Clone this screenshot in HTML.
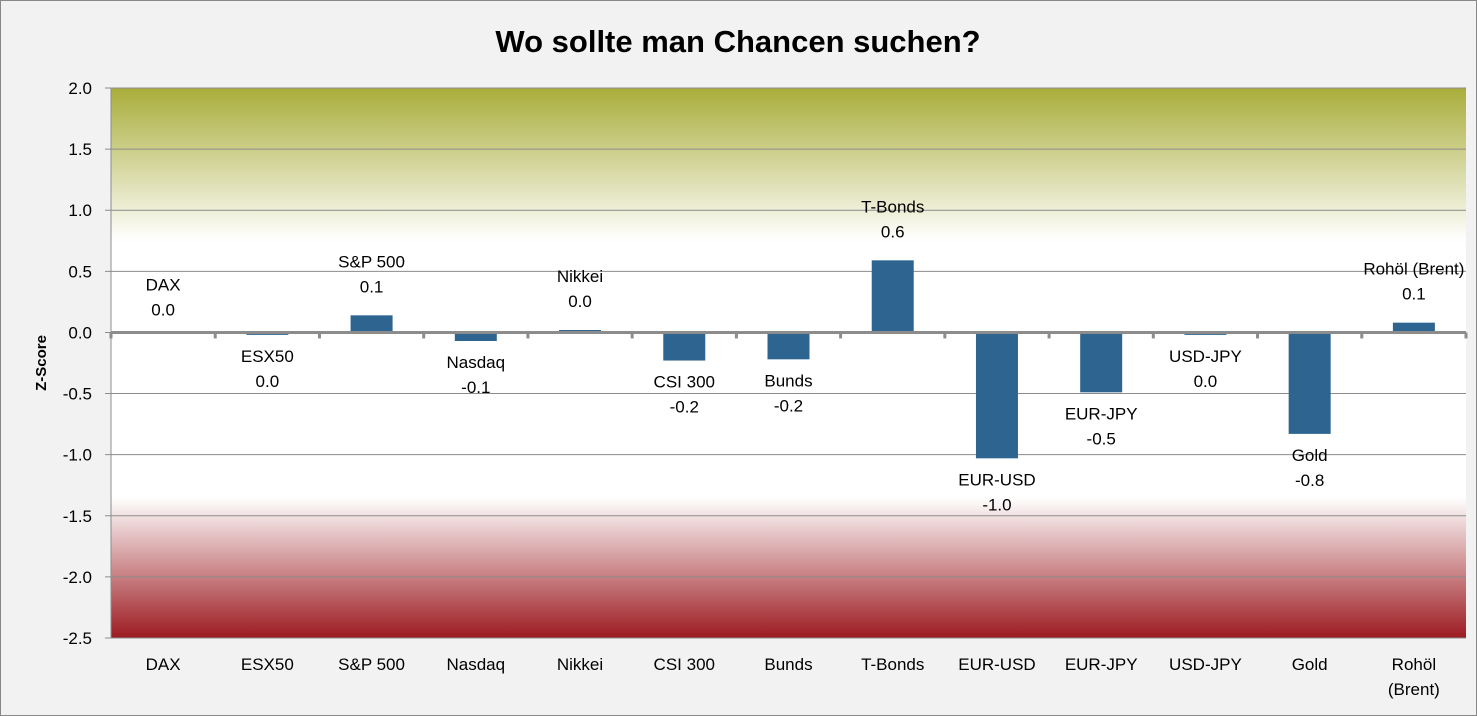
<!DOCTYPE html>
<html><head><meta charset="utf-8">
<style>
html,body{margin:0;padding:0;background:#f2f2f2;}
svg{display:block;font-family:"Liberation Sans",sans-serif;}
</style></head>
<body>
<svg id="chart" width="1477" height="716" viewBox="0 0 1477 716">
<defs>
<linearGradient id="gTop" x1="0" y1="0" x2="0" y2="1">
<stop offset="0" stop-color="#a9ad3a"/>
<stop offset="1" stop-color="#ffffff"/>
</linearGradient>
<linearGradient id="gBot" x1="0" y1="0" x2="0" y2="1">
<stop offset="0" stop-color="#ffffff"/>
<stop offset="1" stop-color="#9c1b21"/>
</linearGradient>
</defs>
<rect x="0.5" y="0.5" width="1476" height="715" fill="#f2f2f2" stroke="#888"/>
<text x="738" y="52" text-anchor="middle" font-size="31" font-weight="bold" fill="#000">Wo sollte man Chancen suchen?</text>
<text transform="translate(46,363) rotate(-90)" text-anchor="middle" font-size="15" font-weight="bold">Z-Score</text>
<g id="plot"></g>
</svg>
<script>
const categories = ["DAX","ESX50","S&P 500","Nasdaq","Nikkei","CSI 300","Bunds","T-Bonds","EUR-USD","EUR-JPY","USD-JPY","Gold","Rohöl (Brent)"];
const axisLabels = [["DAX"],["ESX50"],["S&P 500"],["Nasdaq"],["Nikkei"],["CSI 300"],["Bunds"],["T-Bonds"],["EUR-USD"],["EUR-JPY"],["USD-JPY"],["Gold"],["Rohöl","(Brent)"]];
const values = [0.0,-0.02,0.14,-0.07,0.02,-0.23,-0.22,0.59,-1.03,-0.49,-0.02,-0.83,0.08];
const yTicks = [2.0,1.5,1.0,0.5,0.0,-0.5,-1.0,-1.5,-2.0,-2.5];
const yMin=-2.5, yMax=2.0;
const L=111, R=1466, T=88, B=638;
const NS="http://www.w3.org/2000/svg";
const g=document.getElementById('plot');
function y(v){return T+(yMax-v)/(yMax-yMin)*(B-T);}
const band=(R-L)/categories.length;
function xc(i){return L+band*(i+0.5);}
function el(t,a,p){const e=document.createElementNS(NS,t);for(const k in a)e.setAttribute(k,a[k]);(p||g).appendChild(e);return e;}
// backgrounds
let r=el('rect',{x:L,y:T,width:R-L,height:y(0.75)-T,fill:'url(#gTop)'});


r=el('rect',{x:L,y:y(0.75),width:R-L,height:y(-1.35)-y(0.75),fill:'#fff'});


r=el('rect',{x:L,y:y(-1.35),width:R-L,height:B-y(-1.35),fill:'url(#gBot)'});


// gridlines and ticks
yTicks.forEach(v=>{
  const ln=el('line',{x1:L-6,x2:R,y1:y(v),y2:y(v),stroke:'#8c8c8c','stroke-width':1});
  
  
  const t=el('text',{x:L-19,y:y(v)+6,'text-anchor':'end','font-size':17,fill:'#000'});
  t.textContent=v.toFixed(1);
  
  
});
let ax=el('line',{x1:L,x2:L,y1:T,y2:B,stroke:'#8c8c8c','stroke-width':1});


// bars
values.forEach((v,i)=>{
  const w=42, x=xc(i)-w/2;
  const y0=y(0), y1=y(v);
  const b=el('rect',{x:x,y:Math.min(y0,y1),width:w,height:Math.max(Math.abs(y1-y0),0.01),fill:'#2e6590'});
  
  
  let ny,vy;
  if(v>=0){vy=Math.min(y0,y1)-23; ny=vy-25;}
  else{ny=Math.max(y0,y1)+27; vy=ny+25;}
  if(i===0){ny=y0-42; vy=y0-17;}
  const t1=el('text',{x:xc(i),y:ny,'text-anchor':'middle','font-size':17});
  t1.textContent=categories[i];
  
  
  const t2=el('text',{x:xc(i),y:vy,'text-anchor':'middle','font-size':17});
  t2.textContent=v.toFixed(1).replace(/^-0\.0$/,'0.0');
  
  
  const lab=el('text',{x:xc(i),y:670,'text-anchor':'middle','font-size':17});
  
  
  axisLabels[i].forEach((s,k)=>{const ts=el('tspan',{x:xc(i),dy:k?25:0},lab);ts.textContent=s;});
});
// zero axis
ax=el('line',{x1:L,x2:R,y1:y(0),y2:y(0),stroke:'#8c8c8c','stroke-width':3});


for(let i=0;i<=categories.length;i++){
  const tk=el('line',{x1:L+band*i,x2:L+band*i,y1:y(0),y2:y(0)+6,stroke:'#8c8c8c','stroke-width':3});
  
  
}
</script>
</body></html>
